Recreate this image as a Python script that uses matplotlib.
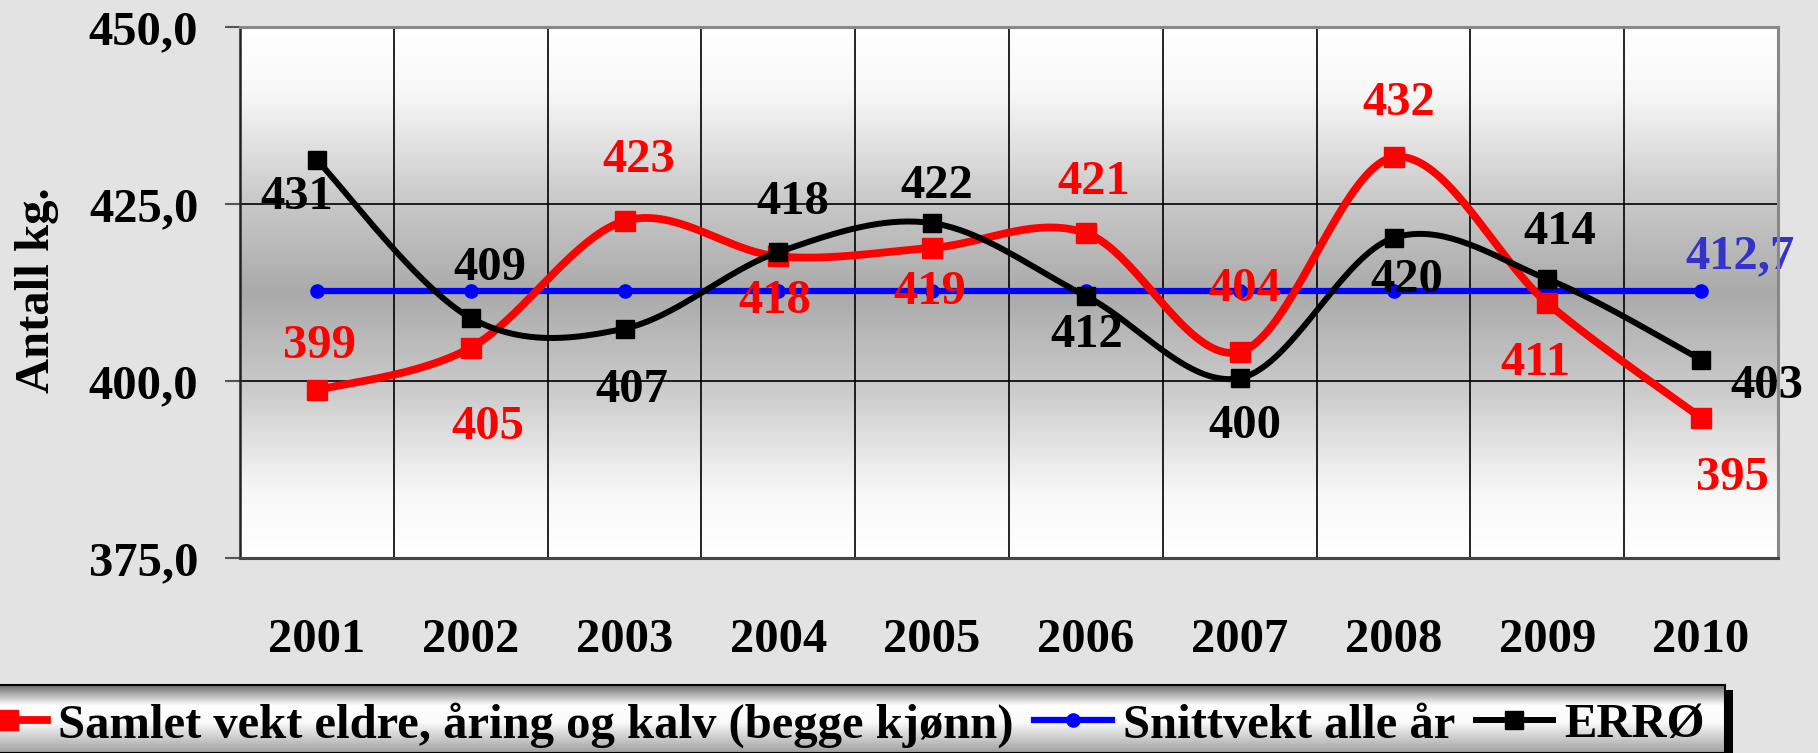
import numpy as np
import matplotlib
matplotlib.use("Agg")
import matplotlib.pyplot as plt
from matplotlib.lines import Line2D
from matplotlib.patches import Rectangle

plt.rcParams['font.family'] = ['Liberation Serif', 'DejaVu Serif']
plt.rcParams['font.weight'] = 'bold'

# ---------------- data ----------------
years = ["2001", "2002", "2003", "2004", "2005", "2006", "2007", "2008", "2009", "2010"]
samlet = [398.7, 404.7, 422.6, 417.6, 418.8, 420.9, 404.1, 431.6, 411.0, 394.8]
errø = [431.2, 408.9, 407.4, 418.2, 422.3, 412.0, 400.4, 420.2, 414.4, 403.0]
snitt = [412.7] * 10
y_ticks = [375, 400, 425, 450]
series_names = ["Samlet vekt eldre, åring og kalv (begge kjønn)", "Snittvekt alle år", "ERRØ"]

# label offsets in pixels (dx, dy) — screen y downward
red_off = [(3, -44), (17, 79), (14, -61), (-3, 45), (-2, 44), (8, -51), (5, -63), (5, -54), (-12, 60), (31, 60)]
blk_off = [(-20, 37), (19, -50), (7, 61), (15, -50), (5, -37), (1, 39), (5, 48), (13, 42), (12, -47), (66, 26)]
blue_off = (39, -35)

W, H = 1818, 753
fig = plt.figure(figsize=(W / 100, H / 100), dpi=100)
fig.patch.set_facecolor('#e3e3e3')

L, R, T, B = 240, 1778, 27, 558
ax = fig.add_axes([L / W, 1 - B / H, (R - L) / W, (B - T) / H])
ax.set_facecolor('none')

x = np.arange(len(years))
ax.set_xlim(-0.5, len(years) - 0.5)
ax.set_ylim(375, 450)

# gradient background
prof = np.interp(np.linspace(0, 1, 256), [0, 0.12, 0.33, 0.5, 0.67, 0.88, 1],
                 [255, 248, 200, 170, 200, 248, 255]) / 255.0
grad = np.dstack([prof, prof, prof]).reshape(256, 1, 3)
ax.imshow(grad, extent=[0, 1, 0, 1], transform=ax.transAxes, aspect='auto', zorder=0,
          interpolation='bilinear')


def smooth(xs, ys, n=40):
    P = np.column_stack([xs, ys]).astype(float)
    Pe = np.vstack([P[0], P, P[-1]])
    out = []
    t = np.linspace(0, 1, n)[:, None]
    for i in range(len(P) - 1):
        p0, p1, p2, p3 = Pe[i], Pe[i + 1], Pe[i + 2], Pe[i + 3]
        c1 = p1 + (p2 - p0) / 6
        c2 = p2 - (p3 - p1) / 6
        seg = (1 - t) ** 3 * p1 + 3 * (1 - t) ** 2 * t * c1 + 3 * (1 - t) * t ** 2 * c2 + t ** 3 * p2
        out.append(seg if i == 0 else seg[1:])
    s = np.vstack(out)
    return s[:, 0], s[:, 1]


# grid
ax.set_xticks(x)
ax.set_xticks(np.arange(len(years) - 1) + 0.5, minor=True)
ax.grid(True, which='minor', axis='x', color='black', lw=1.2, zorder=1)
ax.set_yticks(y_ticks)
ax.grid(True, which='major', axis='y', color='black', lw=1.2, zorder=1)
ax.set_axisbelow(False)
for gl in ax.get_xgridlines() + ax.get_ygridlines():
    gl.set_zorder(1)

# lines
red, blue, black = '#ff0000', '#0000ff', '#000000'
ax.plot(x, snitt, color=blue, lw=4.5, zorder=3, solid_capstyle='butt')
ax.plot(x, snitt, 'o', color=blue, ms=9.5, zorder=3)
sx, sy = smooth(x, samlet)
ax.plot(sx, sy, color=red, lw=5.6, zorder=4)
ax.plot(x, samlet, 's', color=red, ms=15, zorder=4)
sx, sy = smooth(x, errø)
ax.plot(sx, sy, color=black, lw=4.3, zorder=5)
ax.plot(x, errø, 's', color=black, ms=13, zorder=5)

fs = 35
for i, v in enumerate(samlet):
    dx, dy = red_off[i]
    ax.annotate(f"{v:.0f}", (x[i], v), xytext=(dx, -dy), textcoords='offset pixels',
                ha='center', va='center', color=red, fontsize=fs, fontweight='bold', zorder=6)
for i, v in enumerate(errø):
    dx, dy = blk_off[i]
    ax.annotate(f"{v:.0f}", (x[i], v), xytext=(dx, -dy), textcoords='offset pixels',
                ha='center', va='center', color=black, fontsize=fs, fontweight='bold', zorder=6,
                annotation_clip=False)
ax.annotate(f"{snitt[-1]:.1f}".replace('.', ','), (x[-1], snitt[-1]), xytext=(blue_off[0], -blue_off[1]),
            textcoords='offset pixels', ha='center', va='center', color='#3333cc',
            fontsize=fs, fontweight='bold', zorder=6, annotation_clip=False)

# axes styling
ax.set_xticklabels(years, fontsize=fs, fontweight='bold')
ax.set_yticklabels([f"{v:.1f}".replace('.', ',') for v in y_ticks], fontsize=fs, fontweight='bold')
ax.tick_params(axis='x', which='both', length=0, pad=43)
ax.tick_params(axis='y', which='major', direction='out', length=11, width=1.5, color='#555555', pad=19)
ax.tick_params(axis='y', which='minor', length=0)
ax.spines['left'].set_color('#222222'); ax.spines['left'].set_linewidth(1.8)
ax.spines['bottom'].set_color('#444444'); ax.spines['bottom'].set_linewidth(2.2)
ax.spines['top'].set_color('#888888'); ax.spines['top'].set_linewidth(2.2)
ax.spines['right'].set_color('#888888'); ax.spines['right'].set_linewidth(2.2)
for s in ax.spines.values():
    s.set_zorder(7)

fig.text(37 / W, 1 - 290 / H, "Antall kg.", rotation=90, ha='center', va='center',
         fontsize=fs, fontweight='bold')

# legend background
LT, LR = 685, 1725
lax = fig.add_axes([-0.01, 0, LR / W + 0.01, (H - LT) / H], zorder=1)
lprof = np.interp(np.linspace(0, 1, 128), [0, 0.3, 0.55, 1], [110, 255, 250, 160]) / 255.0
lgrad = np.dstack([lprof, lprof, lprof]).reshape(128, 1, 3)
lax.imshow(lgrad, extent=[0, 1, 0, 1], aspect='auto', interpolation='bilinear')
lax.set_xticks([]); lax.set_yticks([])
for s in lax.spines.values():
    s.set_color('black'); s.set_linewidth(1.5)
fig.patches.append(Rectangle((LR / W, 0), 8 / W, (H - 690) / H, transform=fig.transFigure,
                             facecolor='black', edgecolor='none', zorder=0))

handles = [
    Line2D([], [], color=red, lw=5.6, marker='s', ms=15),
    Line2D([], [], color=blue, lw=4.5, marker='o', ms=9.5),
    Line2D([], [], color=black, lw=4.3, marker='s', ms=13),
]
leg = fig.legend(handles, series_names, loc='center right', bbox_to_anchor=(1705 / W, 1 - 725 / H),
                 ncol=3, frameon=False, prop={'weight': 'bold', 'size': fs},
                 handlelength=1.6, handletextpad=0.23, columnspacing=0.42, borderpad=0,
                 borderaxespad=0, numpoints=1)
leg.set_zorder(10)

fig.savefig("out.png", dpi=100, facecolor=fig.get_facecolor())
